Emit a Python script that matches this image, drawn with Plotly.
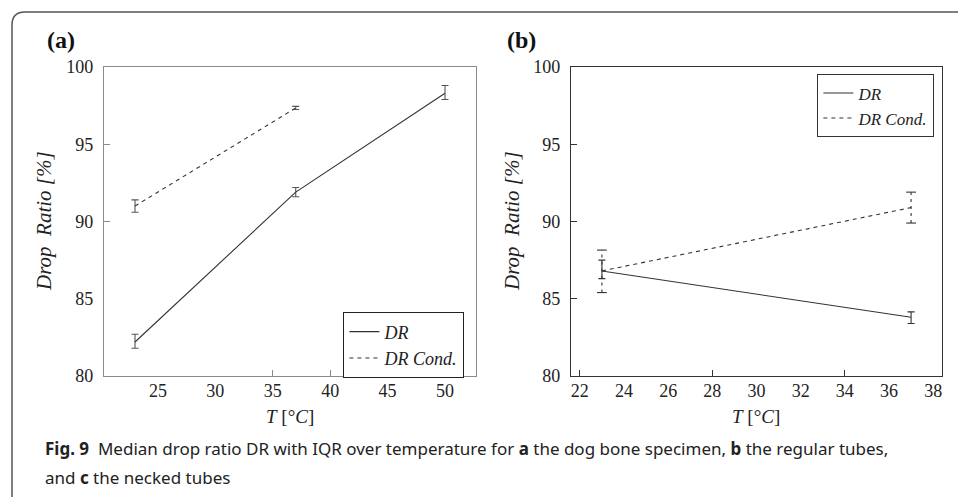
import plotly.graph_objects as go

W, H = 958, 497

# ---------------- data ----------------
# Panel (a): dog bone specimen
a_T = [23, 37, 50]
a_dr = [82.2, 91.9, 98.3]
a_dr_lo = [81.8, 91.6, 97.9]
a_dr_hi = [82.7, 92.2, 98.8]
a_cond_T = [23, 37]
a_cond = [91.0, 97.35]
a_cond_lo = [90.6, 97.25]
a_cond_hi = [91.4, 97.45]

# Panel (b): regular tubes
b_T = [23, 37]
b_dr = [86.8, 83.8]
b_dr_lo = [86.3, 83.4]
b_dr_hi = [87.5, 84.15]
b_cond = [86.8, 90.9]
b_cond_lo = [85.4, 89.9]
b_cond_hi = [88.15, 91.9]

# ticks
a_xticks = [25, 30, 35, 40, 45, 50]
a_xtick_marks = [35, 40, 45]
a_ytick_marks = [90, 95]
b_xticks = [22, 24, 26, 28, 30, 32, 34, 36, 38]
b_xtick_marks = [22, 28, 34]
b_ytick_marks = [85, 90, 95]
yticks = [80, 85, 90, 95, 100]

names = ["DR", "DR Cond."]

SERIF = "Liberation Serif"
SANS = "Noto Sans"
LINE = "#333333"


def px(x):
    return x / W


def py(y):
    return 1 - y / H


def plus(med, hi):
    return [h - m for m, h in zip(med, hi)]


def minus(med, lo):
    return [m - l for m, l in zip(med, lo)]


fig = go.Figure()

# ---- panel (a)
fig.add_trace(go.Scatter(
    x=a_T, y=a_dr, mode="lines", name=names[0], legend="legend",
    line=dict(color=LINE, width=1.1),
    error_y=dict(type="data", array=plus(a_dr, a_dr_hi), arrayminus=minus(a_dr, a_dr_lo),
                 color="#555", thickness=1.1, width=3.5),
    xaxis="x", yaxis="y"))
fig.add_trace(go.Scatter(
    x=a_cond_T, y=a_cond, mode="lines", name=names[1], legend="legend",
    line=dict(color=LINE, width=1.1, dash="4px,4px"),
    error_y=dict(type="data", array=plus(a_cond, a_cond_hi), arrayminus=minus(a_cond, a_cond_lo),
                 color="#555", thickness=1.1, width=3.5),
    xaxis="x", yaxis="y"))

# ---- panel (b)
fig.add_trace(go.Scatter(
    x=b_T, y=b_dr, mode="lines", name=names[0], legend="legend2",
    line=dict(color=LINE, width=1.1),
    error_y=dict(type="data", array=plus(b_dr, b_dr_hi), arrayminus=minus(b_dr, b_dr_lo),
                 color="#333", thickness=1.1, width=3.5),
    xaxis="x2", yaxis="y2"))
fig.add_trace(go.Scatter(
    x=b_T, y=b_cond, mode="lines", name=names[1], legend="legend2",
    line=dict(color=LINE, width=1.1, dash="4px,4px"),
    xaxis="x2", yaxis="y2"))
# dashed error bars for DR Cond. in (b)
ex, ey = [], []
for t, lo, hi in zip(b_T, b_cond_lo, b_cond_hi):
    ex += [t, t, None]
    ey += [lo, hi, None]
fig.add_trace(go.Scatter(
    x=ex, y=ey, mode="lines", showlegend=False, hoverinfo="skip",
    line=dict(color=LINE, width=1.1, dash="3px,4px"),
    xaxis="x2", yaxis="y2"))
fig.add_trace(go.Scatter(
    x=b_T + b_T, y=b_cond_lo + b_cond_hi, mode="markers", showlegend=False, hoverinfo="skip",
    marker=dict(symbol="line-ew", size=7, line=dict(color=LINE, width=1.1)),
    xaxis="x2", yaxis="y2"))

tickfont = dict(family=SERIF, size=18, color="#222")


def xaxis(domain, rng, tickvals, marks, color, lw, anchor):
    return dict(domain=domain, range=rng, tickmode="array", tickvals=tickvals,
                ticks="", showline=True, linecolor=color, linewidth=lw, mirror=True,
                showgrid=False, zeroline=False, tickfont=tickfont, anchor=anchor,
                ticklabelstandoff=-2, automargin=False,
                minor=dict(tickmode="array", tickvals=marks, ticks="inside", ticklen=6,
                           tickcolor=color, tickwidth=1, showgrid=False))


def yaxis(domain, marks, color, lw, anchor):
    return dict(domain=domain, range=[80, 100], tickmode="array", tickvals=yticks,
                ticks="", showline=True, linecolor=color, linewidth=lw, mirror=True,
                showgrid=False, zeroline=False, tickfont=tickfont, anchor=anchor,
                ticklabelstandoff=6, automargin=False,
                minor=dict(tickmode="array", tickvals=marks, ticks="inside", ticklen=6,
                           tickcolor=color, tickwidth=1, showgrid=False))


ydom = [py(376), py(67)]
fig.update_layout(
    width=W, height=H, margin=dict(l=0, r=0, t=0, b=0, autoexpand=False),
    font=dict(family=SERIF, color="#222"),
    paper_bgcolor="white", plot_bgcolor="white",
    xaxis=xaxis([px(104), px(476)], [20.3, 52.7], a_xticks, a_xtick_marks, "#8a8a8a", 1.2, "y"),
    yaxis=yaxis(ydom, a_ytick_marks, "#8a8a8a", 1.2, "x"),
    xaxis2=xaxis([px(571), px(942)], [21.6, 38.4], b_xticks, b_xtick_marks, "#333", 1.4, "y2"),
    yaxis2=yaxis(ydom, b_ytick_marks, "#333", 1.4, "x2"),
    legend=dict(x=px(464), xanchor="right", y=py(312), yanchor="top",
                bordercolor="#222", borderwidth=1.4, bgcolor="white",
                font=dict(family=SERIF, size=18, style="italic", color="#222"),
                itemwidth=30, tracegroupgap=0),
    legend2=dict(x=px(934), xanchor="right", y=py(74), yanchor="top",
                 bordercolor="#333", borderwidth=1.4, bgcolor="white",
                 font=dict(family=SERIF, size=17, style="italic", color="#222"),
                 itemwidth=30, tracegroupgap=0),
    showlegend=True,
)

ann = []
# panel labels
ann.append(dict(text="<b>(a)</b>", x=px(45), y=py(40), xanchor="left", yanchor="middle",
                font=dict(family=SERIF, size=24, color="#111")))
ann.append(dict(text="<b>(b)</b>", x=px(505), y=py(40), xanchor="left", yanchor="middle",
                font=dict(family=SERIF, size=24, color="#111")))
# axis titles
for xc in [px(44), px(512)]:
    ann.append(dict(text="Drop\u00a0 Ratio [%]", x=xc, y=py(221), textangle=-90,
                    xanchor="center", yanchor="middle",
                    font=dict(family=SERIF, size=21, style="italic", color="#222")))
for xc in [px(290), px(756)]:
    ann.append(dict(text="<i>T</i> [°<i>C</i>]", x=xc, y=py(416), xanchor="center",
                    yanchor="middle", font=dict(family=SERIF, size=19, color="#222")))
# caption
ann.append(dict(text="<b>Fig. 9</b>  Median drop ratio DR with IQR over temperature for <b>a</b> the dog bone specimen, <b>b</b> the regular tubes,",
                x=px(43), y=py(448), xanchor="left", yanchor="middle",
                font=dict(family=SANS, size=17, color="#222")))
ann.append(dict(text="and <b>c</b> the necked tubes",
                x=px(43), y=py(477), xanchor="left", yanchor="middle",
                font=dict(family=SANS, size=17, color="#222")))
for a in ann:
    a.update(xref="paper", yref="paper", showarrow=False)
fig.update_layout(annotations=ann)

# rounded border frame (top-left corner)
r = 13
path = (f"M {px(12)},{py(H + 5)} L {px(12)},{py(12 + r)} "
        f"Q {px(12)},{py(12)} {px(12 + r)},{py(12)} L {px(W + 5)},{py(12)}")
fig.add_shape(type="path", path=path, xref="paper", yref="paper",
              line=dict(color="#555", width=1.5))

fig.write_html("out.html")
